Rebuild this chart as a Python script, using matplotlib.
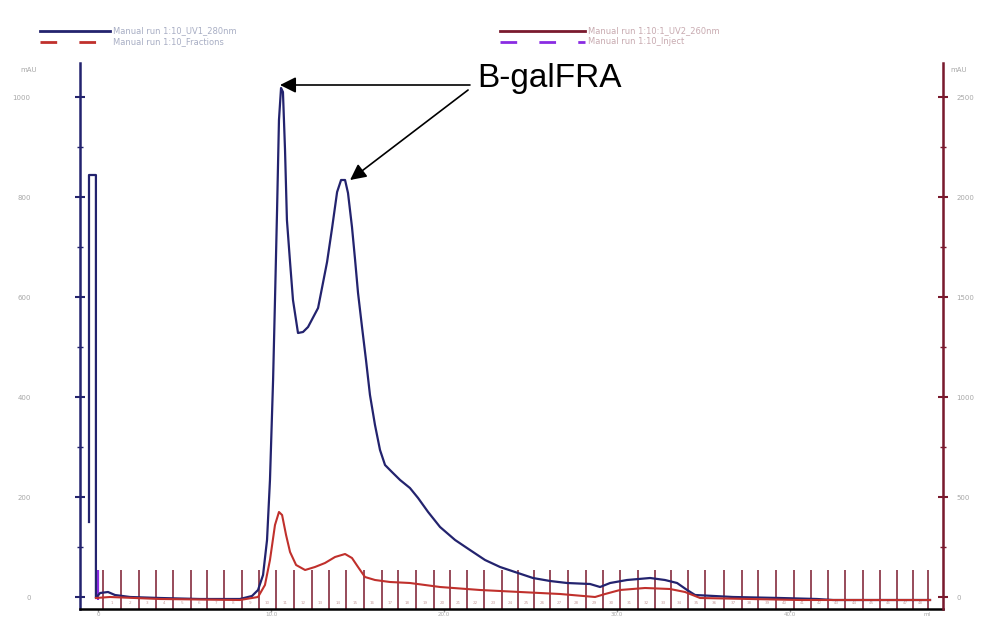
import numpy as np
import matplotlib
matplotlib.use('Agg')
import matplotlib.pyplot as plt
from matplotlib.lines import Line2D

# UV1 280nm trace (ml, mAU)
uv1_ml = [-0.52, -0.52, -0.12, -0.12, 0.12, 0.58, 0.98, 1.85, 3.58, 5.9, 8.2, 8.9, 9.25, 9.54, 9.77,
          9.94, 10.12, 10.23, 10.35, 10.46, 10.58, 10.69, 10.81, 10.92, 11.1, 11.27, 11.56, 11.85,
          12.14, 12.72, 13.24, 13.53, 13.82, 14.05, 14.28, 14.45, 14.68, 14.86, 15.03, 15.26, 15.49,
          15.72, 16.01, 16.3, 16.59, 16.99, 17.46, 18.03, 18.5, 19.08, 19.77, 20.64, 21.5, 22.37,
          23.24, 24.1, 25.14, 26.13, 27.11, 28.44, 29.02, 29.6, 30.58, 31.91, 32.77, 33.47, 34.05,
          34.51, 36.71, 39.42, 41.56, 42.49, 48.09]
uv1_mau = [150, 844, 844, -2, 8, 10, 4, 0, -2, -4, -4, 2, 14, 44, 114,
           234, 434, 594, 774, 954, 1018, 1010, 894, 754, 670, 594, 528, 530,
           540, 578, 670, 738, 810, 834, 834, 808, 740, 674, 608, 540, 474,
           404, 344, 294, 264, 250, 234, 218, 198, 170, 140, 114, 94, 74,
           60, 50, 38, 32, 28, 26, 20, 28, 34, 38, 34, 28, 14,
           4, 0, -2, -4, -6, -6]

# UV2 trace on right axis (ml, mAU)
uv2_ml = [-0.12, 0.69, 3.58, 8.2, 9.25, 9.65, 9.94, 10.23, 10.46, 10.64, 10.87, 11.1, 11.45, 11.97,
          12.54, 13.12, 13.7, 14.28, 14.68, 15.03, 15.43, 16.01, 16.88, 18.03, 19.77, 22.08, 24.39,
          26.71, 28.73, 29.31, 30.17, 31.62, 33.06, 33.93, 34.8, 40.58, 48.09]
uv2_mau = [-5, 0, -10, -15, 0, 60, 185, 360, 425, 410, 310, 225, 160, 135,
           150, 170, 200, 215, 195, 150, 100, 85, 75, 70, 50, 35, 25,
           15, 0, 15, 35, 45, 40, 25, -5, -15, -15]

# fraction marks (ml)
fractions = [0.3, 1.35, 2.35, 3.35, 4.35, 5.35, 6.3, 7.3, 8.3, 9.3, 10.3, 11.35, 12.35, 13.35,
             14.35, 15.35, 16.4, 17.35, 18.4, 19.4, 20.35, 21.3, 22.3, 23.35, 24.3, 25.2, 26.15,
             27.15, 28.2, 29.2, 30.2, 31.2, 32.2, 33.1, 34.1, 35.1, 36.2, 37.2, 38.15, 39.2,
             40.2, 41.2, 42.2, 43.2, 44.2, 45.2, 46.2, 47.1, 47.95]
injection = 0.0

left_ticks = [0, 200, 400, 600, 800, 1000]
left_labels = ['0', '200', '400', '600', '800', '1000']
right_ticks = [0, 500, 1000, 1500, 2000, 2500]
right_labels = ['0', '500', '1000', '1500', '2000', '2500']
x_ticks = [0, 10, 20, 30, 40]
x_labels = ['0', '10.0', '20.0', '30.0', '40.0']

legend_names = ['Manual run 1:10_UV1_280nm', 'Manual run 1:10:1_UV2_260nm',
                'Manual run 1:10_Fractions', 'Manual run 1:10_Inject']

navy = '#23236e'
red = '#c0302c'
maroon = '#7a1a2e'
purple = '#8a2be2'
grey = '#a8a8a8'

fig = plt.figure(figsize=(9.81, 6.21), dpi=100)
ax = fig.add_axes([80 / 981, 12 / 621, 863 / 981, 546 / 621])
ax2 = ax.twinx()

ax.set_xlim(-1.04, 48.84)
ax.set_ylim(-24, 1068)
ax2.set_ylim(-60, 2670)

# fraction marks and injection
ax.vlines(fractions, -24, 54, color=maroon, lw=1.1, zorder=1)
for i in range(len(fractions) - 1):
    ax.text((fractions[i] + fractions[i + 1]) / 2, -13, str(i + 1), fontsize=3,
            color='#c9a0a0', ha='center', va='center')
ax.vlines([injection], -6, 54, color=purple, lw=1.6, zorder=3)

ax2.plot(uv2_ml, uv2_mau, color=red, lw=1.5, zorder=2)
ax.plot(uv1_ml, uv1_mau, color=navy, lw=1.6, zorder=4)

ax.set_yticks(left_ticks)
ax.set_yticklabels(left_labels)
ax.set_yticks([100, 300, 500, 700, 900], minor=True)
ax2.set_yticks(right_ticks)
ax2.set_yticklabels(right_labels)
ax2.set_yticks([250, 750, 1250, 1750, 2250], minor=True)
ax.set_xticks(x_ticks)
ax.set_xticklabels(x_labels)

ax.tick_params(axis='y', which='major', direction='inout', length=7, width=1.5,
               color=navy, labelsize=5, labelcolor=grey, pad=32)
ax.tick_params(axis='y', which='minor', direction='inout', length=4, width=1, color=navy)
ax2.tick_params(axis='y', which='major', direction='inout', length=7, width=1.5,
                color=maroon, labelsize=5, labelcolor=grey, pad=6)
ax2.tick_params(axis='y', which='minor', direction='inout', length=4, width=1, color=maroon)
ax.tick_params(axis='x', direction='out', length=2, width=1, color='#999999',
               labelsize=4, labelcolor=grey, pad=0.5)

for a in (ax, ax2):
    a.spines['top'].set_visible(False)
ax.spines['left'].set_color(navy)
ax.spines['left'].set_linewidth(1.8)
ax.spines['bottom'].set_color('black')
ax.spines['bottom'].set_linewidth(1.8)
ax2.spines['right'].set_color(maroon)
ax2.spines['right'].set_linewidth(1.8)
ax2.spines['left'].set_visible(False)
ax2.spines['bottom'].set_visible(False)

fig.text(20 / 981, 1 - 70 / 621, 'mAU', fontsize=5, color=grey, va='center')
fig.text(950 / 981, 1 - 70 / 621, 'mAU', fontsize=5, color=grey, va='center')
fig.text(923 / 981, 1 - 615 / 621, 'ml', fontsize=4, color=grey, va='center')

# legend rows drawn at the top
W, H = 981, 621
rows = [(31, 40, 110, navy, '-', legend_names[0], 500, 585, maroon, '-', legend_names[1]),
        (42, 40, 110, red, (0, (6, 8)), legend_names[2], 500, 585, purple, (0, (6, 8)), legend_names[3])]
for y, x0, x1, c1, ls1, t1, x2, x3, c2, ls2, t2 in rows:
    fig.add_artist(Line2D([x0 / W, x1 / W], [1 - y / H, 1 - y / H], color=c1, lw=2, ls=ls1))
    fig.text((x1 + 3) / W, 1 - y / H, t1, fontsize=6, color='#a8aec4', va='center')
    fig.add_artist(Line2D([x2 / W, x3 / W], [1 - y / H, 1 - y / H], color=c2, lw=2, ls=ls2))
    fig.text((x3 + 3) / W, 1 - y / H, t2, fontsize=6, color='#c8aab0', va='center')

# peak annotation
ax.text(21.9, 1036, 'B-galFRA', fontsize=24, family='Liberation Sans', va='center', ha='left')
arrow = dict(arrowstyle='-|>', color='black', lw=1.2, mutation_scale=24, shrinkA=0, shrinkB=0)
ax.annotate('', xy=(10.52, 1024), xytext=(21.5, 1024), arrowprops=arrow)
ax.annotate('', xy=(14.57, 834), xytext=(21.39, 1014), arrowprops=arrow)

plt.savefig('out.png', dpi=100)
